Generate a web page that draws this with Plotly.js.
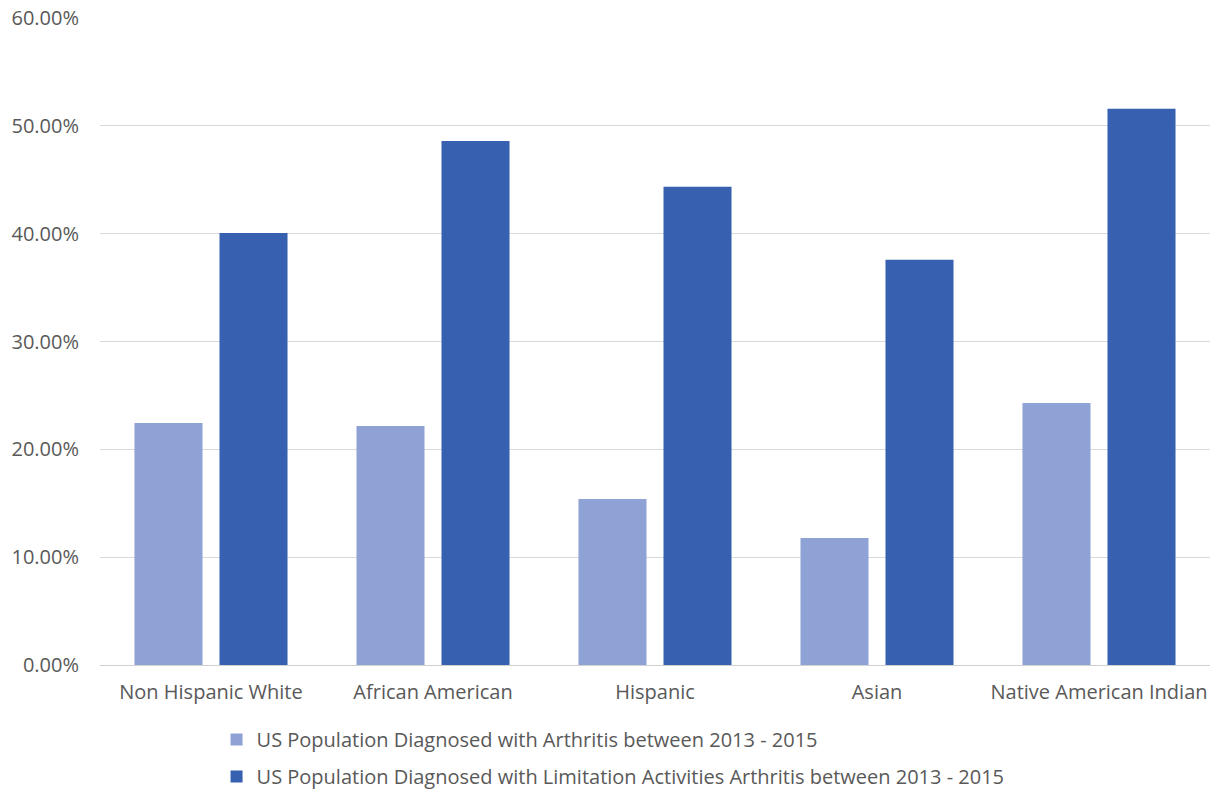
<!DOCTYPE html>
<html>
<head>
<meta charset="utf-8">
<script src="https://cdn.plot.ly/plotly-3.0.1.min.js"></script>
<style>html,body{margin:0;padding:0;background:#fff;}#chart{width:1217px;height:790px;}</style>
</head>
<body>
<div id="chart"></div>
<script>
var categories = ["Non Hispanic White", "African American", "Hispanic", "Asian", "Native American Indian"];
var seriesNames = [
  "US Population Diagnosed with Arthritis between 2013 - 2015",
  "US Population Diagnosed with Limitation Activities Arthritis between 2013 - 2015"
];
var arthritis = [0.2245, 0.2217, 0.1540, 0.1178, 0.2430];
var limitation = [0.4007, 0.4860, 0.4434, 0.3757, 0.5158];
var yTicks = [0, 0.1, 0.2, 0.3, 0.4, 0.5, 0.6];

var font = "'Open Sans', 'Noto Sans', sans-serif";
var gray = "#595959";

var traces = [
  {type: "bar", name: seriesNames[0], x: categories, y: arthritis, legendgroup: "a",
   marker: {color: "#8ea2d5", line: {width: 0}}},
  {type: "bar", name: seriesNames[1], x: categories, y: limitation, legendgroup: "b",
   marker: {color: "#3761b0", line: {width: 0}}}
];

var layout = {
  width: 1217, height: 790,
  margin: {l: 100, r: 7, t: 18, b: 125, autoexpand: false},
  paper_bgcolor: "#fff", plot_bgcolor: "#fff",
  barmode: "group", bargap: 0.234, bargroupgap: 0.2,
  font: {family: font, size: 20, color: gray},
  xaxis: {showgrid: false, showline: true, linecolor: "#d0d0d0", linewidth: 1,
          ticks: "", tickfont: {size: 20, color: gray}, ticklabelstandoff: 9},
  yaxis: {range: [0, 0.6], tickvals: yTicks, tickformat: ".2%", showgrid: true,
          gridcolor: "#d9d9d9", gridwidth: 1, zeroline: false, showline: false,
          ticks: "", tickfont: {size: 20, color: gray}, ticklabelstandoff: 20},
  showlegend: true,
  legend: {orientation: "v", x: 0.105, xanchor: "left", y: -0.085, yanchor: "top",
           font: {size: 20, color: gray}, tracegroupgap: 8, itemwidth: 30,
           bgcolor: "rgba(0,0,0,0)"}
};

Plotly.newPlot("chart", traces, layout, {displayModeBar: false, staticPlot: true});
</script>
</body>
</html>
